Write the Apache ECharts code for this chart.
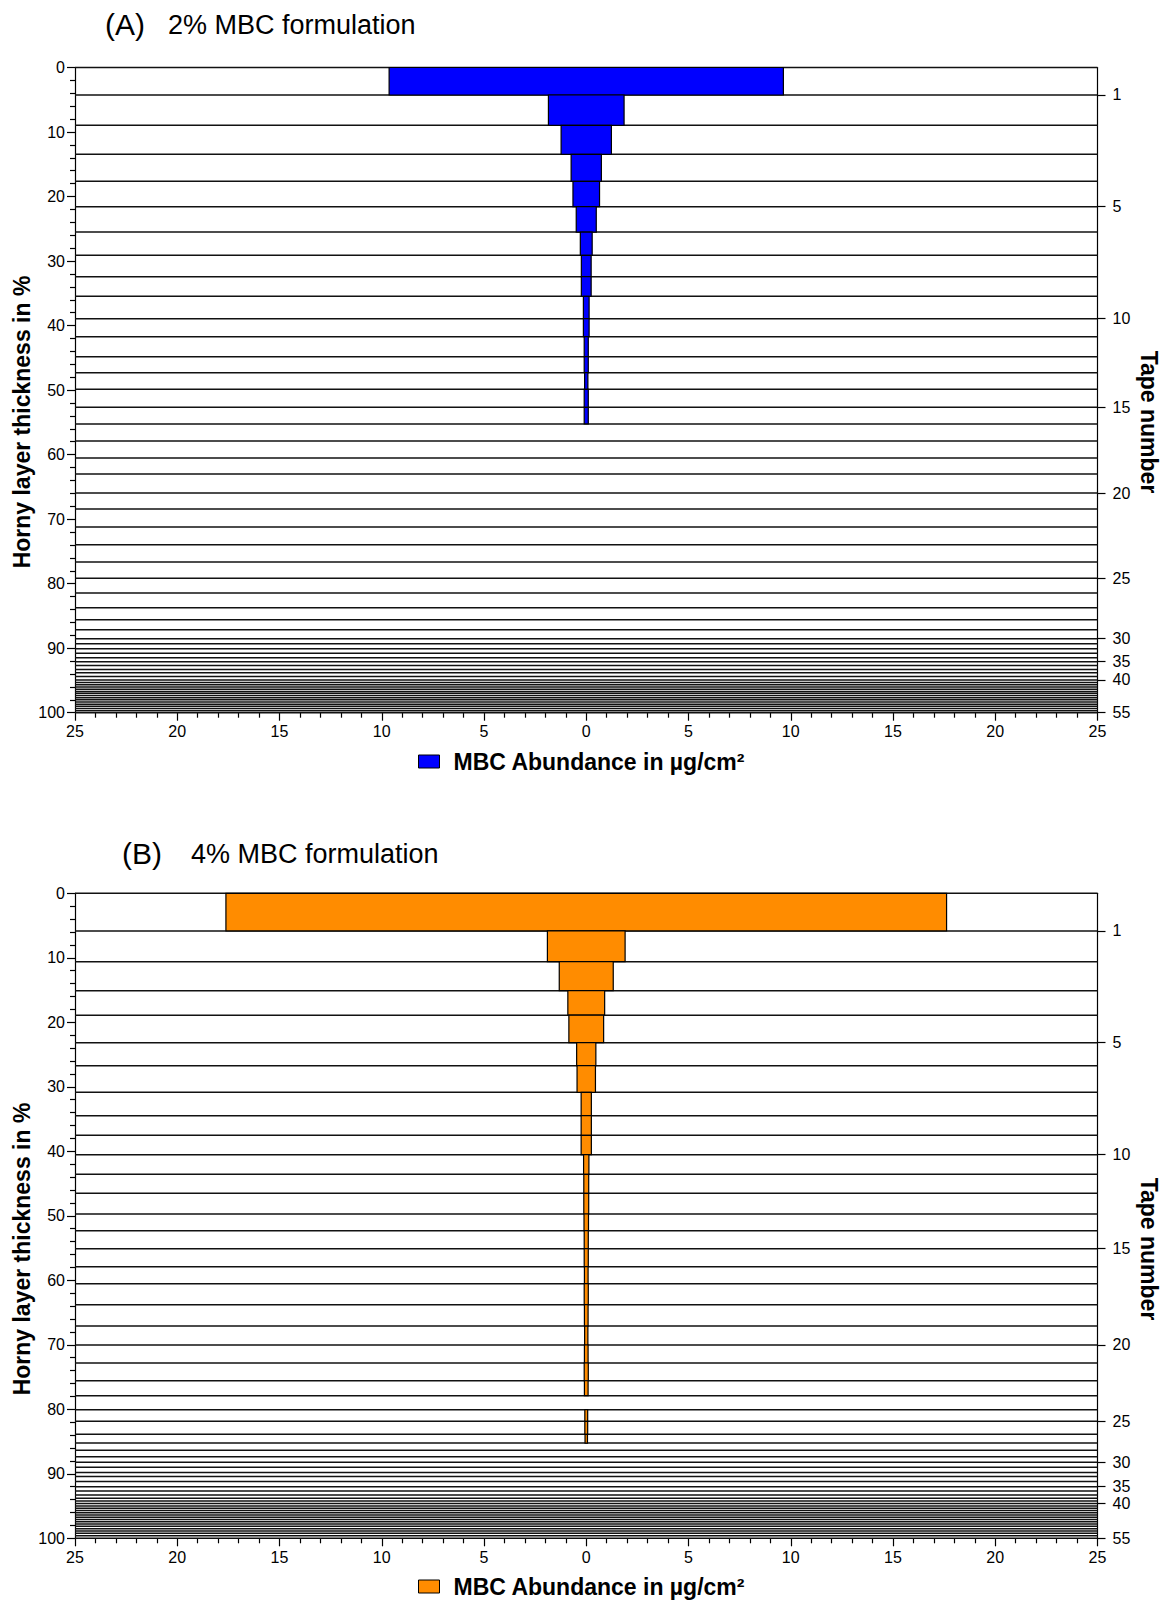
<!DOCTYPE html>
<html>
<head>
<meta charset="utf-8">
<script src="https://cdn.jsdelivr.net/npm/echarts@6/dist/echarts.min.js"></script>
<style>
html,body{margin:0;padding:0;background:#fff;}
#c{width:1163px;height:1601px;}
</style>
</head>
<body>
<div id="c"></div>
<script>
// Cumulative horny layer thickness (%) at the lower boundary of each tape (index 0 = surface)
const depthA = [0, 4.26, 8.96, 13.45, 17.64, 21.57, 25.50, 29.11, 32.42, 35.46, 38.93, 41.72, 44.82, 47.30, 49.88, 52.67, 55.25, 57.89, 60.52, 63.0, 65.95, 68.43, 71.22, 73.96, 76.64, 79.17, 81.45, 83.73, 85.59, 87.14, 88.53, 89.3, 90.1, 90.8, 91.5, 92.1, 92.7, 93.3, 93.8, 94.4, 94.93, 95.3, 95.65, 96.0, 96.35, 96.7, 97.0, 97.35, 97.7, 98.0, 98.35, 98.7, 99.0, 99.35, 99.7, 100];
const depthB = [0, 5.84, 10.6, 15.1, 18.9, 23.16, 26.72, 30.86, 34.48, 37.52, 40.52, 43.57, 46.51, 49.72, 52.31, 55.10, 57.89, 60.53, 63.78, 67.09, 70.03, 72.82, 75.57, 77.89, 80.06, 81.86, 83.88, 85.23, 86.36, 87.35, 88.22, 89.0, 89.8, 90.4, 91.2, 92.0, 92.67, 93.3, 93.8, 94.2, 94.6, 95.0, 95.35, 95.7, 96.05, 96.4, 96.75, 97.1, 97.45, 97.8, 98.15, 98.5, 98.85, 99.2, 99.6, 100];
// MBC abundance (µg/cm²) per tape, tape 1 first
const valuesA = [9.64, 1.85, 1.23, 0.74, 0.65, 0.49, 0.29, 0.24, 0.24, 0.14, 0.14, 0.10, 0.10, 0.08, 0.10, 0.10];
const valuesB = [17.62, 1.90, 1.32, 0.90, 0.85, 0.47, 0.45, 0.25, 0.25, 0.25, 0.13, 0.12, 0.12, 0.11, 0.10, 0.10, 0.09, 0.10, 0.09, 0.08, 0.09, 0.10, 0.09, 0, 0.07, 0.07, 0.06];
// Tape numbers labelled on the right axis
const tapeTicks = [1, 5, 10, 15, 20, 25, 30, 35, 40, 55];
const titleLetters = ['(A)', '(B)'];
const titleTexts = ['2% MBC formulation', '4% MBC formulation'];
const legendText = 'MBC Abundance in µg/cm²';
const yName = 'Horny layer thickness in %';
const rightName = 'Tape number';
const colors = ['#0000FF', '#FF8C00'];

const FONT = "'Liberation Sans', Arial, Helvetica, sans-serif";
const chart = echarts.init(document.getElementById('c'), null, {renderer: 'svg'});

const panels = [
  {depth: depthA, values: valuesA, top: 67.5, height: 645.2, titleY: 27, legendY: 750, nameY: 422},
  {depth: depthB, values: valuesB, top: 893.3, height: 645, titleY: 856, legendY: 1575, nameY: 1249}
];

const grid = [], xAxis = [], yAxis = [], series = [], legend = [], graphic = [];

panels.forEach((p, k) => {
  grid.push({left: 75, top: p.top, width: 1022.5, height: p.height, containLabel: false});
  xAxis.push({
    type: 'value', gridIndex: k, min: -25, max: 25, interval: 5, position: 'bottom',
    axisLine: {show: true, onZero: false, lineStyle: {color: '#000', width: 1.2}},
    axisTick: {show: true, length: 8, lineStyle: {color: '#000', width: 1.2}},
    minorTick: {show: true, splitNumber: 5, length: 5, lineStyle: {color: '#000', width: 1.2}},
    splitLine: {show: false},
    axisLabel: {color: '#000', fontSize: 16, fontFamily: FONT, margin: 11, formatter: v => String(Math.abs(v))}
  });
  yAxis.push({
    type: 'value', gridIndex: k, min: 0, max: 100, interval: 10, inverse: true, position: 'left',
    axisLine: {show: true, onZero: false, lineStyle: {color: '#000', width: 1.2}},
    axisTick: {show: true, length: 8, lineStyle: {color: '#000', width: 1.2}},
    minorTick: {show: true, splitNumber: 5, length: 5, lineStyle: {color: '#000', width: 1.2}},
    splitLine: {show: false},
    axisLabel: {color: '#000', fontSize: 16, fontFamily: FONT, margin: 10}
  });
  const tickVals = tapeTicks.map(t => p.depth[t]);
  yAxis.push({
    type: 'value', gridIndex: k, min: 0, max: 100, inverse: true, position: 'right',
    axisLine: {show: true, onZero: false, lineStyle: {color: '#000', width: 1.2}},
    axisTick: {show: true, length: 8, customValues: tickVals, lineStyle: {color: '#000', width: 1.2}},
    splitLine: {show: false},
    axisLabel: {
      color: '#000', fontSize: 16, fontFamily: FONT, margin: 15, customValues: tickVals,
      formatter: v => {
        let best = 0, bd = 1e9;
        tapeTicks.forEach(t => { const d = Math.abs(p.depth[t] - v); if (d < bd) { bd = d; best = t; } });
        return String(best);
      }
    }
  });
  // boundary lines
  series.push({
    type: 'custom', name: 'lines' + k, xAxisIndex: k, yAxisIndex: 2 * k, silent: true, clip: false,
    data: p.depth.map(d => [0, d]),
    encode: {x: 0, y: 1},
    renderItem: (params, api) => {
      const y = api.value(1);
      const a = api.coord([-25, y]);
      const b = api.coord([25, y]);
      return {type: 'line', shape: {x1: a[0], y1: a[1], x2: b[0], y2: b[1]},
        style: {stroke: '#111', lineWidth: 1.5}};
    }
  });
  // bars
  const seriesName = k === 0 ? 'A' : 'B';
  series.push({
    type: 'custom', name: seriesName, xAxisIndex: k, yAxisIndex: 2 * k, clip: false,
    itemStyle: {color: colors[k], borderColor: '#000', borderWidth: 1},
    data: p.values.map((v, i) => [v, p.depth[i], p.depth[i + 1]]),
    encode: {x: 0, y: [1, 2]},
    renderItem: (params, api) => {
      const v = api.value(0);
      if (!v) return null;
      const tl = api.coord([-v, api.value(1)]);
      const br = api.coord([v, api.value(2)]);
      return {type: 'rect', shape: {x: tl[0], y: tl[1], width: br[0] - tl[0], height: br[1] - tl[1]},
        style: {fill: colors[k], stroke: '#000', lineWidth: 1.2}};
    }
  });
  legend.push({
    data: [seriesName], left: 418, top: p.legendY, icon: 'rect', itemWidth: 21, itemHeight: 13,
    selectedMode: false, padding: 0,
    itemStyle: {borderColor: '#000', borderWidth: 1},
    formatter: () => legendText,
    textStyle: {color: '#000', fontSize: 23, fontWeight: 'bold', fontFamily: FONT, padding: [0, 0, 0, 9]}
  });
  graphic.push({
    type: 'text', left: k === 0 ? 105 : 122, top: p.titleY - 18,
    style: {text: titleLetters[k], fontSize: 30, fontFamily: FONT, fill: '#000'}
  });
  graphic.push({
    type: 'text', left: k === 0 ? 168 : 191, top: p.titleY - 16,
    style: {text: titleTexts[k], fontSize: 27, fontFamily: FONT, fill: '#000'}
  });
  graphic.push({
    type: 'text', x: 22, y: p.nameY, rotation: Math.PI / 2,
    style: {text: yName, fontSize: 23, fontWeight: 'bold', fontFamily: FONT, fill: '#000', align: 'center', verticalAlign: 'middle'}
  });
  graphic.push({
    type: 'text', x: 1149, y: p.nameY, rotation: -Math.PI / 2,
    style: {text: rightName, fontSize: 23, fontWeight: 'bold', fontFamily: FONT, fill: '#000', align: 'center', verticalAlign: 'middle'}
  });
});

chart.setOption({
  backgroundColor: '#fff',
  animation: false,
  grid, xAxis, yAxis, series, legend, graphic
});
</script>
</body>
</html>
